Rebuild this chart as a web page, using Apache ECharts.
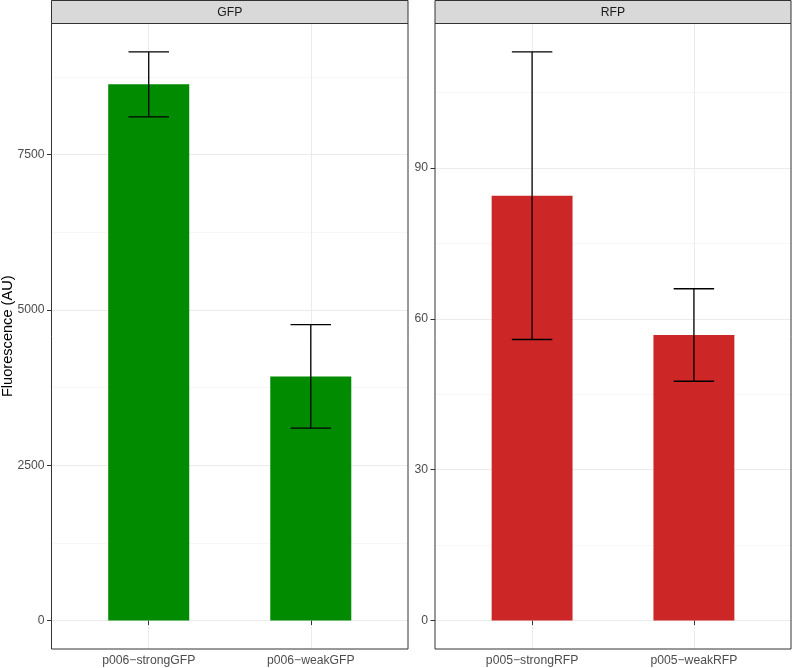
<!DOCTYPE html>
<html>
<head>
<meta charset="utf-8">
<script src="https://cdn.jsdelivr.net/npm/echarts@6/dist/echarts.min.js"></script>
<style>
html,body{margin:0;padding:0;background:#fff;}
#chart{width:792px;height:668px;}
</style>
</head>
<body>
<div id="chart"></div>
<script>
// ---- data ----
const gfpCategories = ['p006\u2212strongGFP', 'p006\u2212weakGFP'];
const gfpMeans = [8630, 3930];
const gfpErr = [522, 834];
const rfpCategories = ['p005\u2212strongRFP', 'p005\u2212weakRFP'];
const rfpMeans = [84.5, 56.8];
const rfpErr = [28.6, 9.2];
const gfpTicks = [0, 2500, 5000, 7500];
const gfpMinorTicks = [1250, 3750, 6250, 8750];
const rfpTicks = [0, 30, 60, 90];
const rfpMinorTicks = [15, 45, 75, 105];
const panelTitles = ['GFP', 'RFP'];
const yTitle = 'Fluorescence (AU)';

const FONT = "'Liberation Sans', Arial, Helvetica, sans-serif";
const chart = echarts.init(document.getElementById('chart'), null, {renderer: 'canvas'});

function range(means, errs) {
  const M = Math.max(...means.map((m, i) => m + errs[i]));
  return [-0.05 * M, 1.05 * M];
}
const gR = range(gfpMeans, gfpErr);
const rR = range(rfpMeans, rfpErr);

const panels = [
  {left: 51.5, width: 356.5},
  {left: 435, width: 356}
];
const TOP = 23.5, HEIGHT = 625.5;

function xAxis(idx, cats) {
  return {
    type: 'value', gridIndex: idx, min: 0.4, max: 2.6,
    axisLine: {show: false},
    axisTick: {show: true, customValues: [1, 2], length: 4.5, lineStyle: {color: '#333333', width: 1}},
    axisLabel: {customValues: [1, 2], formatter: v => cats[Math.round(v) - 1], color: '#4D4D4D', fontSize: 12.2, fontFamily: FONT, margin: 6},
    splitLine: {show: true, lineStyle: {color: '#EBEBEB', width: 1}},
    minorSplitLine: {show: false}
  };
}
function yAxisMain(idx, r, ticks) {
  return {
    type: 'value', gridIndex: idx, min: r[0], max: r[1],
    axisLine: {show: false},
    axisTick: {show: true, customValues: ticks, length: 4.5, lineStyle: {color: '#333333', width: 1}},
    axisLabel: {customValues: ticks, formatter: v => String(v), color: '#4D4D4D', fontSize: 12.2, fontFamily: FONT, margin: 7},
    splitLine: {show: true, lineStyle: {color: '#EBEBEB', width: 1}}
  };
}
function yAxisMinor(idx, r, ticks) {
  return {
    type: 'value', gridIndex: idx, min: r[0], max: r[1],
    axisLine: {show: false},
    axisTick: {show: false, customValues: ticks},
    axisLabel: {show: false, customValues: ticks},
    splitLine: {show: true, lineStyle: {color: '#F2F2F2', width: 0.6}}
  };
}

function barSeries(xi, yi, means, color) {
  return {
    type: 'custom', xAxisIndex: xi, yAxisIndex: yi, z: 3,
    data: means.map((m, i) => [i + 1, m]),
    renderItem(params, api) {
      const x = api.value(0), y = api.value(1);
      const p1 = api.coord([x - 0.25, y]);
      const p2 = api.coord([x + 0.25, 0]);
      return {type: 'rect', shape: {x: p1[0], y: p1[1], width: p2[0] - p1[0], height: p2[1] - p1[1]}, style: {fill: color}};
    }
  };
}
function errSeries(xi, yi, means, errs) {
  return {
    type: 'custom', xAxisIndex: xi, yAxisIndex: yi, z: 4,
    data: means.map((m, i) => [i + 1, m - errs[i], m + errs[i]]),
    renderItem(params, api) {
      const x = api.value(0), lo = api.value(1), hi = api.value(2);
      const pl = api.coord([x, lo]), ph = api.coord([x, hi]);
      const cl = api.coord([x - 0.125, lo]), cr = api.coord([x + 0.125, lo]);
      const st = {stroke: '#000', lineWidth: 1.3};
      return {type: 'group', children: [
        {type: 'line', shape: {x1: pl[0], y1: pl[1], x2: ph[0], y2: ph[1]}, style: st},
        {type: 'line', shape: {x1: cl[0], y1: pl[1], x2: cr[0], y2: pl[1]}, style: st},
        {type: 'line', shape: {x1: cl[0], y1: ph[1], x2: cr[0], y2: ph[1]}, style: st}
      ]};
    }
  };
}

const graphics = [];
panels.forEach((p, i) => {
  graphics.push({
    type: 'rect', z: 10,
    shape: {x: p.left, y: 0.5, width: p.width, height: TOP - 0.5},
    style: {fill: '#D9D9D9', stroke: '#333333', lineWidth: 1}
  });
  graphics.push({
    type: 'text', z: 11,
    x: p.left + p.width / 2, y: TOP / 2 + 0.5,
    style: {text: panelTitles[i], fill: '#1A1A1A', font: '12.2px ' + FONT, textAlign: 'center', textVerticalAlign: 'middle'}
  });
});
graphics.push({
  type: 'text', z: 11,
  x: 8, y: TOP + HEIGHT / 2,
  rotation: Math.PI / 2,
  style: {text: yTitle, fill: '#000', font: '14.6px ' + FONT, textAlign: 'center', textVerticalAlign: 'middle'}
});

chart.setOption({
  animation: false,
  backgroundColor: '#fff',
  grid: panels.map(p => ({left: p.left, width: p.width, top: TOP, height: HEIGHT, show: true, borderColor: '#333333', borderWidth: 1, backgroundColor: 'transparent', z: 5, containLabel: false, outerBoundsMode: 'none'})),
  xAxis: [xAxis(0, gfpCategories), xAxis(1, rfpCategories)],
  yAxis: [
    yAxisMain(0, gR, gfpTicks),
    yAxisMinor(0, gR, gfpMinorTicks),
    yAxisMain(1, rR, rfpTicks),
    yAxisMinor(1, rR, rfpMinorTicks)
  ],
  series: [
    barSeries(0, 0, gfpMeans, '#008B00'),
    errSeries(0, 0, gfpMeans, gfpErr),
    barSeries(1, 2, rfpMeans, '#CD2626'),
    errSeries(1, 2, rfpMeans, rfpErr)
  ],
  graphic: graphics
});
</script>
</body>
</html>
